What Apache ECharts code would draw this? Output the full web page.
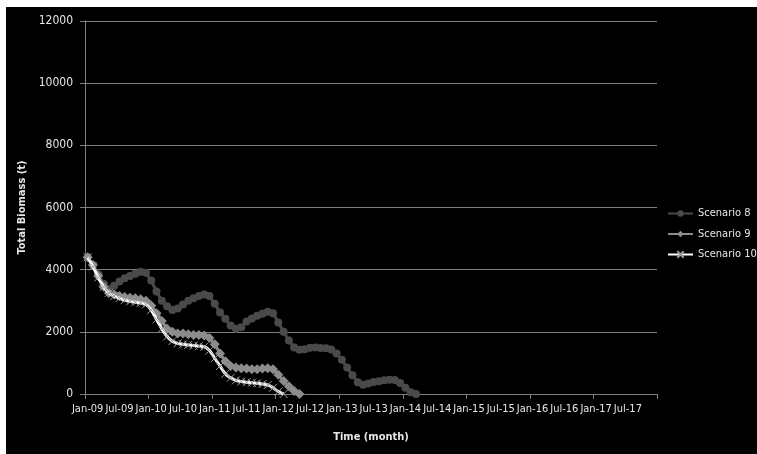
<!DOCTYPE html>
<html>
<head>
<meta charset="utf-8">
<script src="https://cdn.jsdelivr.net/npm/echarts@6/dist/echarts.min.js"></script>
<style>
  html, body { margin: 0; padding: 0; background: #fff; }
  #chart { width: 757px; height: 454px; }
</style>
</head>
<body>
<div id="chart"></div>
<script>
// Month categories Jan-09 .. Dec-17
const monthNames = ['Jan','Feb','Mar','Apr','May','Jun','Jul','Aug','Sep','Oct','Nov','Dec'];
const yearSuffixes = ['09','10','11','12','13','14','15','16','17'];
const categories = [];
yearSuffixes.forEach(y => monthNames.forEach(m => categories.push(m + '-' + y)));

const seriesNames = ['Scenario 8', 'Scenario 9', 'Scenario 10'];

// Total biomass (t), monthly from Jan-09
const scenario8 = [
  4400, 4150, 3850, 3550, 3380, 3480, 3620, 3720, 3800, 3870, 3930, 3900,
  3650, 3300, 3000, 2820, 2700, 2750, 2880, 3000, 3080, 3150, 3200, 3150,
  2900, 2620, 2420, 2200, 2100, 2150, 2330, 2430, 2520, 2580, 2650, 2600,
  2300, 2000, 1720, 1500, 1420, 1440, 1490, 1500, 1480, 1470, 1430, 1300,
  1100, 850, 600, 380, 300, 340, 390, 410, 440, 460, 450, 350,
  200, 60, 0
];
const scenario9 = [
  4400, 4150, 3800, 3450, 3250, 3200, 3150, 3120, 3100, 3080, 3050, 3000,
  2850, 2600, 2350, 2100, 2000, 1950, 1950, 1920, 1900, 1900, 1880, 1800,
  1600, 1300, 1050, 900, 850, 830, 820, 800, 800, 820, 830, 800,
  620, 420, 250, 100, 0
];
const scenario10 = [
  4400, 4100, 3750, 3450, 3250, 3150, 3080, 3020, 2980, 2950, 2930, 2880,
  2700, 2400, 2100, 1850, 1700, 1630, 1600, 1580, 1560, 1540, 1520, 1400,
  1150, 900, 650, 520, 440, 400, 380, 360, 345, 320, 290, 200,
  80, 0
];

const yTicks = { min: 0, max: 12000, interval: 2000 };

const font = "'DejaVu Sans Condensed', 'DejaVu Sans', sans-serif";
const textColor = '#e6e6e6';
const gridColor = '#7f7f7f';

const crossPath = 'path://M0,0L10,10M10,0L0,10';

const chart = echarts.init(document.getElementById('chart'), null, { renderer: 'canvas' });
chart.setOption({
  backgroundColor: '#ffffff',
  animation: false,
  graphic: [{
    type: 'rect',
    z: -100,
    silent: true,
    shape: { x: 6, y: 7, width: 751, height: 447 },
    style: { fill: '#000000' }
  }],
  grid: { left: 85, top: 21, right: 100, bottom: 60, containLabel: false },
  legend: {
    orient: 'vertical',
    left: 667,
    top: 208,
    padding: 0,
    itemWidth: 25,
    itemHeight: 8,
    itemGap: 9.5,
    textStyle: { color: textColor, fontFamily: font, fontSize: 11 },
    data: seriesNames
  },
  xAxis: {
    type: 'category',
    data: categories,
    boundaryGap: true,
    name: 'Time (month)',
    nameLocation: 'middle',
    nameGap: 38,
    nameTextStyle: { color: textColor, fontFamily: font, fontSize: 11, fontWeight: 'bold' },
    axisLine: { lineStyle: { color: gridColor, width: 1 } },
    axisTick: { show: true, interval: 11, length: 5, lineStyle: { color: gridColor } },
    axisLabel: { interval: 5, color: textColor, fontFamily: font, fontSize: 11, margin: 10 },
    splitLine: { show: false }
  },
  yAxis: {
    type: 'value',
    min: yTicks.min,
    max: yTicks.max,
    interval: yTicks.interval,
    name: 'Total Biomass (t)',
    nameLocation: 'middle',
    nameGap: 52,
    nameRotate: 90,
    nameTextStyle: { color: textColor, fontFamily: font, fontSize: 11, fontWeight: 'bold' },
    axisLine: { show: true, lineStyle: { color: gridColor, width: 1 } },
    axisTick: { show: true, length: 5, lineStyle: { color: gridColor } },
    axisLabel: { color: textColor, fontFamily: font, fontSize: 12, margin: 12, formatter: v => String(v) },
    splitLine: { show: true, lineStyle: { color: gridColor, width: 1 } }
  },
  series: [
    {
      name: seriesNames[0],
      type: 'line',
      data: scenario8,
      symbol: 'circle',
      symbolSize: 8,
      showAllSymbol: true,
      itemStyle: { color: '#4a4a4a' },
      lineStyle: { color: '#4a4a4a', width: 3 },
      z: 2
    },
    {
      name: seriesNames[1],
      type: 'line',
      data: scenario9,
      symbol: 'diamond',
      symbolSize: 10,
      showAllSymbol: true,
      itemStyle: { color: '#8c8c8c' },
      lineStyle: { color: '#8c8c8c', width: 3 },
      z: 3
    },
    {
      name: seriesNames[2],
      type: 'line',
      data: scenario10,
      smooth: true,
      symbol: crossPath,
      symbolSize: 8,
      showAllSymbol: true,
      itemStyle: { color: 'rgba(0,0,0,0)', borderColor: '#9a9a9a', borderWidth: 1 },
      lineStyle: { color: '#ffffff', width: 3 },
      z: 4
    }
  ]
});
</script>
</body>
</html>
